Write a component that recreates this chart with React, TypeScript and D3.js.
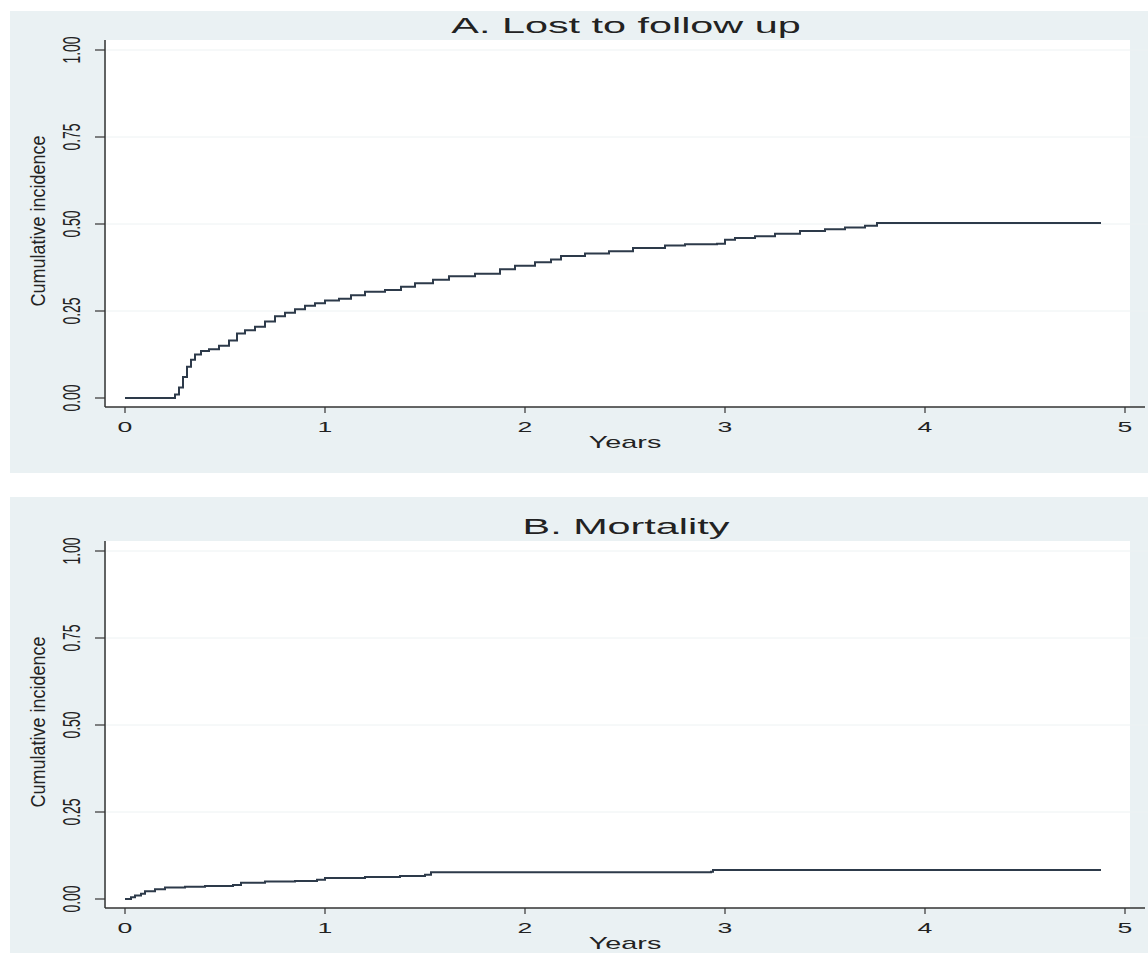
import React from "react";
import * as d3 from "d3";

const ltfuTime = [0, 0.24, 0.25, 0.27, 0.29, 0.31, 0.33, 0.35, 0.38, 0.42, 0.47, 0.52, 0.56, 0.6, 0.65, 0.7, 0.75, 0.8, 0.85, 0.9, 0.95, 1.0, 1.07, 1.13, 1.2, 1.3, 1.38, 1.45, 1.54, 1.62, 1.75, 1.875, 1.95, 2.05, 2.13, 2.18, 2.3, 2.42, 2.54, 2.7, 2.8, 2.96, 3.0, 3.05, 3.15, 3.25, 3.375, 3.5, 3.6, 3.7, 3.76, 4.88];
const ltfuInc = [0, 0, 0.01, 0.03, 0.06, 0.09, 0.11, 0.125, 0.135, 0.14, 0.15, 0.165, 0.185, 0.195, 0.205, 0.22, 0.235, 0.245, 0.255, 0.265, 0.272, 0.28, 0.285, 0.295, 0.305, 0.31, 0.32, 0.33, 0.34, 0.35, 0.357, 0.37, 0.38, 0.39, 0.398, 0.408, 0.415, 0.422, 0.431, 0.438, 0.442, 0.443, 0.455, 0.46, 0.465, 0.472, 0.48, 0.485, 0.49, 0.495, 0.503, 0.503];

const mortTime = [0, 0.03, 0.05, 0.08, 0.1, 0.15, 0.2, 0.3, 0.4, 0.54, 0.58, 0.7, 0.85, 0.96, 1.0, 1.2, 1.375, 1.5, 1.53, 2.0, 2.93, 2.94, 4.88];
const mortInc = [0, 0.005, 0.01, 0.015, 0.022, 0.028, 0.033, 0.035, 0.037, 0.04, 0.047, 0.05, 0.052, 0.055, 0.06, 0.063, 0.066, 0.07, 0.077, 0.077, 0.078, 0.083, 0.083];

const yTicks = [0, 0.25, 0.5, 0.75, 1];
const yTickLabels = ["0.00", "0.25", "0.50", "0.75", "1.00"];
const xTicks = [0, 1, 2, 3, 4, 5];

const panelTitles = ["A. Lost to follow up", "B. Mortality"];
const yTitle = "Cumulative incidence";
const xTitle = "Years";

const BG = "#eaf1f3";
const LINE = "#2d3a4a";
const FONT = "'Liberation Sans', Arial, sans-serif";

type PanelProps = {
  offset: number;
  bgTop: number;
  bgBottom: number;
  title: string;
  times: number[];
  values: number[];
};

function Panel({ offset, bgTop, bgBottom, title, times, values }: PanelProps) {
  const x = d3.scaleLinear().domain([0, 5]).range([125, 1125]);
  const y = d3.scaleLinear().domain([0, 1]).range([398 + offset, 50 + offset]);
  const pts = times.map((t, i) => [t, values[i]] as [number, number]);
  const line = d3
    .line<[number, number]>()
    .x((d) => x(d[0]))
    .y((d) => y(d[1]))
    .curve(d3.curveStepAfter);
  const axisY = 407 + offset;
  return (
    <g>
      <rect x={10} y={bgTop} width={1138} height={bgBottom - bgTop} fill={BG} />
      <rect x={106} y={40 + offset} width={1024} height={axisY - 40 - offset} fill="#ffffff" />
      {yTicks.slice(1).map((t) => (
        <line key={"g" + t} x1={106} x2={1148} y1={y(t)} y2={y(t)} stroke="#edf2f3" strokeWidth={1} />
      ))}
      <text
        transform={`translate(626,${33 + offset}) scale(1.88,1)`}
        textAnchor="middle"
        fontFamily={FONT}
        fontSize={22}
        fill="#222"
      >
        {title}
      </text>
      {/* y axis */}
      <line x1={105} x2={105} y1={40 + offset} y2={axisY} stroke="#333" strokeWidth={1.5} />
      {yTicks.map((t, i) => (
        <g key={"y" + t}>
          <line x1={95} x2={105} y1={y(t)} y2={y(t)} stroke="#333" strokeWidth={1.2} />
          <text
            transform={`translate(80,${y(t)}) rotate(-90) scale(1,1.7)`}
            textAnchor="middle"
            fontFamily={FONT}
            fontSize={14}
            fill="#222"
          >
            {yTickLabels[i]}
          </text>
        </g>
      ))}
      <text
        transform={`translate(45,${221 + offset}) rotate(-90) scale(1,1.15)`}
        textAnchor="middle"
        fontFamily={FONT}
        fontSize={18}
        fill="#222"
      >
        {yTitle}
      </text>
      {/* x axis */}
      <line x1={105} x2={1145} y1={axisY} y2={axisY} stroke="#333" strokeWidth={1.5} />
      {xTicks.map((t) => (
        <g key={"x" + t}>
          <line x1={x(t)} x2={x(t)} y1={axisY} y2={axisY + 6} stroke="#333" strokeWidth={1.2} />
          <text
            transform={`translate(${x(t)},${432 + offset}) scale(1.9,1)`}
            textAnchor="middle"
            fontFamily={FONT}
            fontSize={14}
            fill="#222"
          >
            {t}
          </text>
        </g>
      ))}
      <text
        transform={`translate(625,${448 + offset}) scale(1.8,1)`}
        textAnchor="middle"
        fontFamily={FONT}
        fontSize={16}
        fill="#222"
      >
        {xTitle}
      </text>
      <path d={line(pts) || ""} fill="none" stroke={LINE} strokeWidth={2} />
    </g>
  );
}

export default function App() {
  return (
    <svg
      width={1148}
      height={953}
      style={{ position: "absolute", left: 0, top: 0, background: "#ffffff" }}
    >
      <rect x={0} y={0} width={1148} height={953} fill="#ffffff" />
      <Panel offset={0} bgTop={11} bgBottom={473} title={panelTitles[0]} times={ltfuTime} values={ltfuInc} />
      <Panel offset={501} bgTop={497} bgBottom={953} title={panelTitles[1]} times={mortTime} values={mortInc} />
    </svg>
  );
}
